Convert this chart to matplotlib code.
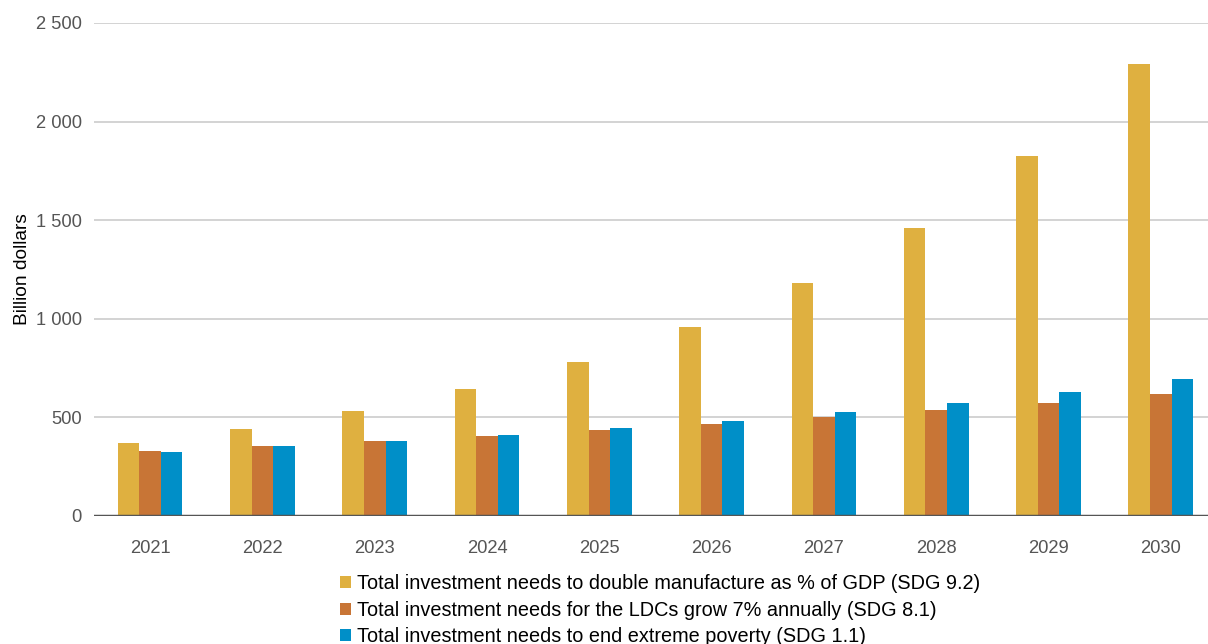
import matplotlib
matplotlib.use('agg')
import matplotlib.pyplot as plt
import numpy as np

years = ['2021', '2022', '2023', '2024', '2025', '2026', '2027', '2028', '2029', '2030']
manufacture = [369, 441, 531, 643, 782, 959, 1183, 1462, 1826, 2293]
ldc_growth = [330, 354, 379, 406, 435, 465, 501, 537, 575, 618]
poverty = [327, 354, 379, 411, 445, 482, 526, 575, 631, 695]
labels = ['Total investment needs to double manufacture as % of GDP (SDG 9.2)',
          'Total investment needs for the LDCs grow 7% annually (SDG 8.1)',
          'Total investment needs to end extreme poverty (SDG 1.1)']
colors = ['#DFB040', '#C87536', '#008FC8']
yticks = [0, 500, 1000, 1500, 2000, 2500]

plt.rcParams['font.family'] = ['Liberation Sans', 'DejaVu Sans']

W, H = 1208, 644
fig = plt.figure(figsize=(W/100, H/100), dpi=100)
ax = fig.add_axes([94/W, 1-516/H, (W-94)/W, (516-23)/H])

x = np.arange(len(years))
bw = 0.192
series = [manufacture, ldc_growth, poverty]
bars = []
for i, (vals, c) in enumerate(zip(series, colors)):
    b = ax.bar(x + (i-1)*bw, vals, bw, color=c, linewidth=0, zorder=3)
    bars.append(b)

ax.set_xlim(-0.5, 9.42)
ax.set_ylim(0, 2500)
ax.set_yticks(yticks)
ax.set_yticklabels([f'{v:,}'.replace(',', ' ') for v in yticks])
ax.set_xticks(x)
ax.set_xticklabels(years)
ax.grid(axis='y', color='#cccccc', lw=1.2, zorder=0)
ax.axhline(0, color='#555555', lw=2.5, zorder=4)
for s in ax.spines.values():
    s.set_visible(False)
ax.tick_params(axis='y', length=0, pad=9, labelsize=13.2, labelcolor='#555555')
ax.tick_params(axis='x', length=0, pad=17, labelsize=13.2, labelcolor='#555555')
ax.set_ylabel('Billion dollars', fontsize=13.8, color='black', labelpad=3)

fig.legend(bars, labels, loc='upper left', bbox_to_anchor=(340/W, 1-574/H),
           frameon=False, fontsize=14.3, handlelength=0.55, handleheight=0.55,
           handletextpad=0.3, labelspacing=0.38, borderpad=0, borderaxespad=0)

plt.savefig('out.png', dpi=100)
